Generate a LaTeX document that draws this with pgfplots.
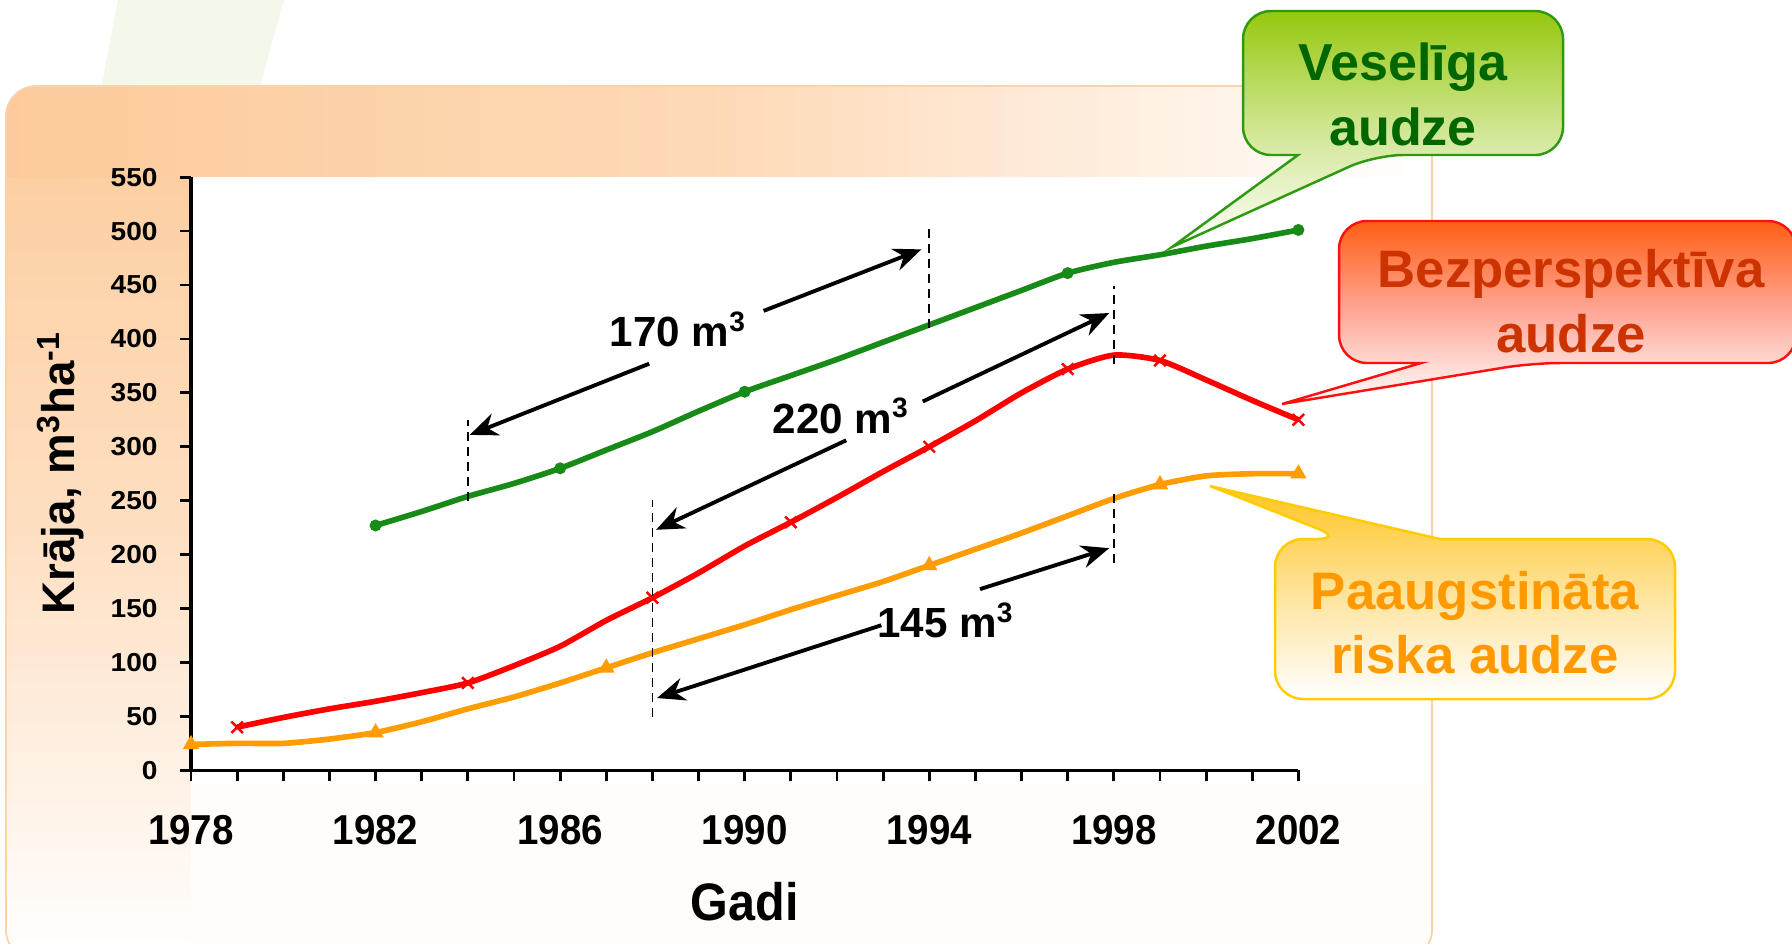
\documentclass[border=0pt]{standalone}
\usepackage{pgfplots}
\usepackage{pgfplotstable}
\pgfplotsset{compat=1.18}
\usetikzlibrary{arrows.meta}
\usepackage{fontspec}
\setmainfont{Liberation Sans}
\newfontfamily\xtf{Liberation Sans}[FakeStretch=0.92]
\newfontfamily\ytf{Liberation Sans}[FakeStretch=1.08]

\definecolor{peach}{HTML}{FDCB9B}
\definecolor{peachline}{HTML}{FCD2AA}
\definecolor{faintgreen}{HTML}{F4F8EA}
\definecolor{gline}{HTML}{178A17}
\definecolor{rline}{HTML}{FF0000}
\definecolor{oline}{HTML}{FF9C00}
\definecolor{gtop}{HTML}{96C80E}
\definecolor{gborder}{HTML}{2E9A10}
\definecolor{gtext}{HTML}{006600}
\definecolor{rtop}{HTML}{FF5E14}
\definecolor{rmid}{HTML}{FFA898}
\definecolor{rborder}{HTML}{FF1010}
\definecolor{rtext}{HTML}{CC3300}
\definecolor{otop}{HTML}{FFC520}
\definecolor{omid}{HTML}{FEE39A}
\definecolor{oborder}{HTML}{FFCC00}
\definecolor{otext}{HTML}{FF9900}

\pgfplotstableread{
year val
1982 227
1983 240
1984 254
1985 266
1986 280
1987 297
1988 314
1989 333
1990 351
1991 366
1992 381
1993 397
1994 413
1995 429
1996 445
1997 461
1998 471
1999 478
2000 486
2001 493
2002 501
}\greenline
\pgfplotstableread{
year val
1982 227
1986 280
1990 351
1997 461
2002 501
}\greenmarks
\pgfplotstableread{
year val
1979 40
1980 49
1981 57
1982 64
1983 72
1984 81
1985 97
1986 115
1987 139
1988 160
1989 183
1990 208
1991 230
1992 253
1993 277
1994 300
1995 324
1996 350
1997 372
1998 385
1999 380
2000 362
2001 343
2002 325
}\redline
\pgfplotstableread{
year val
1979 40
1984 81
1988 160
1991 230
1994 300
1997 372
1999 380
2002 325
}\redmarks
\pgfplotstableread{
year val
1978 24
1979 25
1980 25
1981 29
1982 35
1983 45
1984 57
1985 68
1986 81
1987 95
1988 109
1989 122
1990 135
1991 149
1992 162
1993 175
1994 190
1995 205
1996 220
1997 236
1998 252
1999 265
2000 273
2001 275
2002 275
}\orangeline
\pgfplotstableread{
year val
1978 24
1982 35
1987 95
1994 190
1999 265
2002 275
}\orangemarks

\tikzset{
  dimarrow/.style={-{Stealth[length=2.8mm,width=2.3mm]}, line width=1.1pt, black},
  dimdash/.style={black, line width=0.5pt, dash pattern=on 0.9mm off 0.6mm},
  dimtext/.style={font=\bfseries\fontsize{12}{14}\selectfont, anchor=base, text=black},
}

\begin{document}
\begin{tikzpicture}
\clip (0,0) rectangle (179.2mm,-94.3mm);
% ---------- background ----------
\begin{scope}[x=0.1mm,y=-0.1mm]
  \fill[white] (0,0) rectangle (1792,943);
  \fill[faintgreen] (118,0) -- (284,0) -- (200,300) -- (60,300) -- cycle;
  \path[top color=peach, bottom color=white, middle color={peach!62!white}] (6,86) [rounded corners=3mm] rectangle (1432,960);
  \begin{scope}
    \clip (6,86) [rounded corners=3mm] rectangle (1432,960);
    \path[left color=peach, right color=white, middle color={peach!72!white}] (6,86) rectangle (1432,177);
    \fill[white] (191,177) rectangle (1432,785);
    \fill[peach!6!white] (191,785) rectangle (1432,960);
  \end{scope}
  \draw[peachline, line width=0.5pt] (6,86) [rounded corners=3mm] rectangle (1432,960);
\end{scope}

% ---------- chart ----------
\begin{axis}[
  at={(19.1mm,-77.03mm)}, anchor=south west,
  scale only axis, width=110.74mm, height=59.32mm,
  xmin=1978, xmax=2002, ymin=0, ymax=550,
  axis x line*=bottom, axis y line*=left,
  xtick pos=left, ytick pos=left,
  axis line style={line width=1pt, black},
  xtick={1978,1982,...,2002},
  xticklabels={1978,1982,1986,1990,1994,1998,2002},
  minor xtick={1979,1980,...,2001},
  ytick={0,50,...,550},
  tick align=outside,
  major tick length=1.1mm, minor tick length=1.1mm,
  every tick/.style={black, line width=0.8pt},
  /pgf/number format/assume math mode=true,
  xticklabel style={font=\xtf\bfseries\fontsize{11.9}{14}\selectfont, anchor=base, yshift=-6.3mm},
  yticklabel style={font=\ytf\bfseries\fontsize{7.4}{9}\selectfont, anchor=east, xshift=-1mm},
  ylabel={Krāja, m\textsuperscript{3}ha\textsuperscript{-1}},
  ylabel style={font=\bfseries\fontsize{13}{15}\selectfont, at={(axis description cs:-0.1048,0.502)}, anchor=base},
  xlabel={Gadi},
  xlabel style={font=\xtf\bfseries\fontsize{15}{18}\selectfont, at={(axis description cs:0.5,-0.254)}, anchor=base},
  clip=false,
]
\addplot[gline, line width=1.6pt, smooth, tension=0.4] table[x=year,y=val] {\greenline};
\addplot[gline, only marks, mark=*, mark size=1.5pt] table[x=year,y=val] {\greenmarks};
\addplot[rline, line width=1.6pt, smooth, tension=0.4] table[x=year,y=val] {\redline};
\addplot[rline, only marks, mark=x, mark size=2.3pt, mark options={line width=0.7pt}] table[x=year,y=val] {\redmarks};
\addplot[oline, line width=1.6pt, smooth, tension=0.4] table[x=year,y=val] {\orangeline};
\addplot[oline, only marks, mark=triangle*, mark size=2.3pt] table[x=year,y=val] {\orangemarks};

% dashed markers
\draw[dimdash] (axis cs:1984,250) -- (axis cs:1984,325);
\draw[dimdash] (axis cs:1994,410) -- (axis cs:1994,502);
\draw[dimdash] (axis cs:1988,49) -- (axis cs:1988,251);
\draw[dimdash] (axis cs:1998,377) -- (axis cs:1998,449);
\draw[dimdash] (axis cs:1998,192) -- (axis cs:1998,257);
% 170
\draw[dimarrow] (axis cs:1987.93,377) -- (axis cs:1984.04,311);
\draw[dimarrow] (axis cs:1990.41,426) -- (axis cs:1993.83,483);
\node[dimtext] at (axis cs:1988.56,393) {170 m\textsuperscript{3}};
% 220
\draw[dimarrow] (axis cs:1992.2,306) -- (axis cs:1988.08,223);
\draw[dimarrow] (axis cs:1993.86,342) -- (axis cs:1997.9,424);
\node[dimtext] at (axis cs:1992.09,312.5) {220 m\textsuperscript{3}};
% 145
\draw[dimarrow] (axis cs:1992.96,134.5) -- (axis cs:1988.1,67);
\draw[dimarrow] (axis cs:1995.1,168) -- (axis cs:1997.9,206);
\node[dimtext] at (axis cs:1994.36,122.7) {145 m\textsuperscript{3}};
\end{axis}

% ---------- callouts ----------
\begin{scope}[x=0.1mm,y=-0.1mm]
  % green
  \path[draw=gborder, line width=0.7pt, top color=gtop, bottom color=white, middle color={gtop!45!white}]
    (1243,80) [rounded corners=2.8mm] -- (1243,11) -- (1563,11) -- (1563,155) -- (1375,155)
    [sharp corners] -- (1172,247) -- (1298,155) [rounded corners=2.8mm] -- (1243,155) -- cycle;
  \node[font=\bfseries\fontsize{14.8}{17}\selectfont, text=gtext, anchor=base] at (1403,80) {Veselīga};
  \node[font=\bfseries\fontsize{14.8}{17}\selectfont, text=gtext, anchor=base] at (1403,145) {audze};
  % red
  \path[draw=rborder, line width=0.7pt, top color=rtop, bottom color=white, middle color=rmid]
    (1339,290) [rounded corners=2.8mm] -- (1339,221) -- (1796,221) -- (1796,363) -- (1532,363)
    [sharp corners] -- (1282,404) -- (1421,363) [rounded corners=2.8mm] -- (1339,363) -- cycle;
  \node[font=\bfseries\fontsize{15}{18}\selectfont, text=rtext, anchor=base] at (1571,287) {Bezperspektīva};
  \node[font=\bfseries\fontsize{15}{18}\selectfont, text=rtext, anchor=base] at (1571,352) {audze};
  % orange
  \path[draw=oborder, line width=0.7pt, top color=otop, bottom color=white, middle color=omid]
    (1275,620) [rounded corners=2.8mm] -- (1275,539) -- (1344,539)
    [sharp corners] -- (1210,486) -- (1440,539) [rounded corners=2.8mm] -- (1675,539) -- (1675,699) -- (1275,699) -- cycle;
  \node[font=\bfseries\fontsize{15}{18}\selectfont, text=otext, anchor=base] at (1475,609) {Paaugstināta};
  \node[font=\bfseries\fontsize{15}{18}\selectfont, text=otext, anchor=base] at (1475,673) {riska audze};
\end{scope}
\end{tikzpicture}
\end{document}
